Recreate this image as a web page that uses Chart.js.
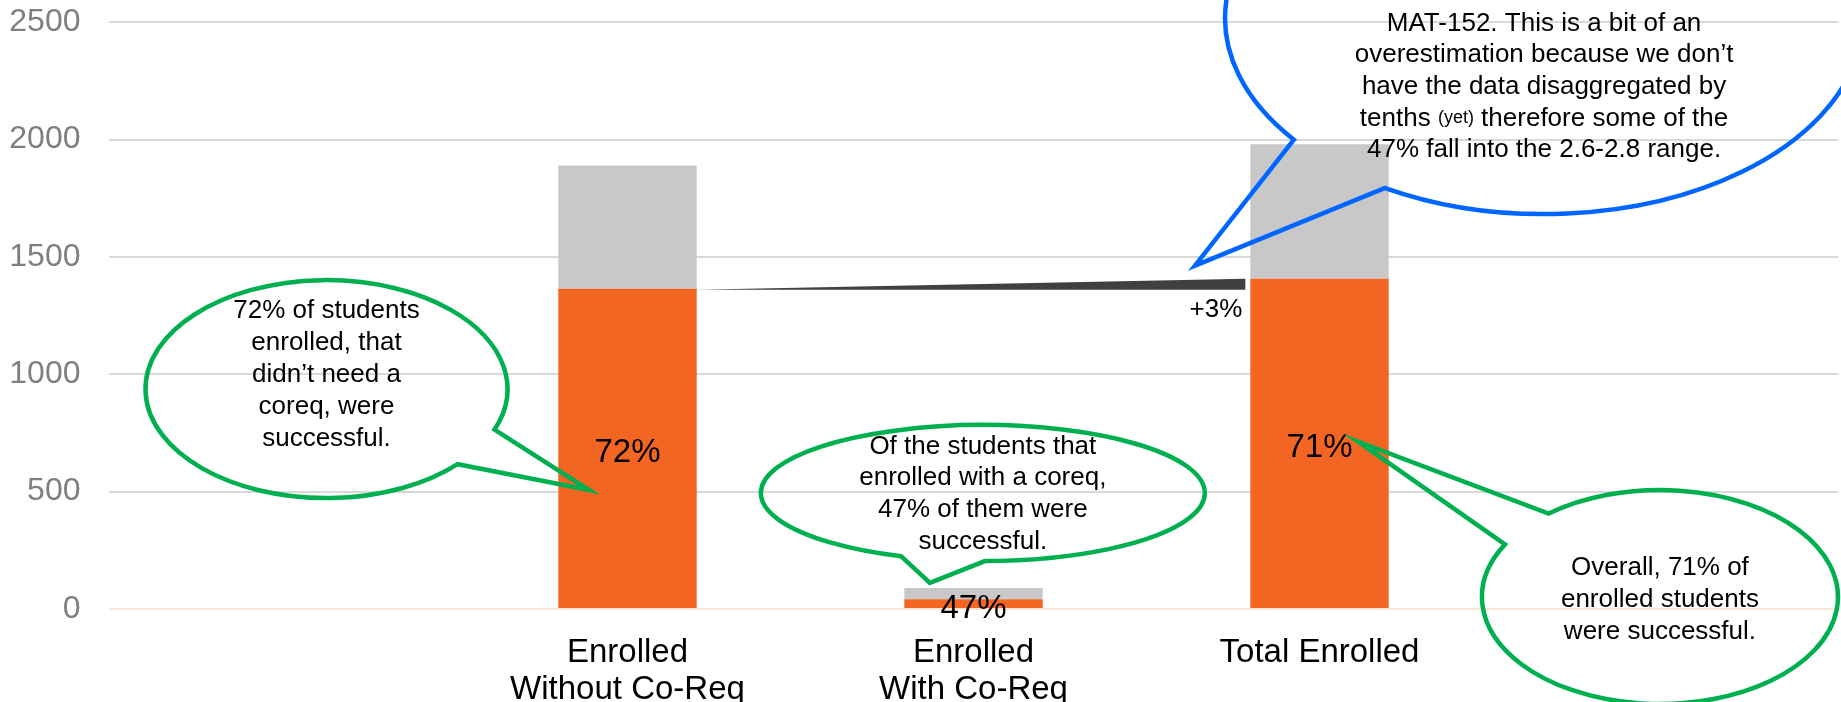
<!DOCTYPE html>
<html>
<head>
<meta charset="utf-8">
<script src="https://cdn.jsdelivr.net/npm/chart.js"></script>
<style>
  body { margin: 0; background: #fff; }
  #wrap { width: 1841px; height: 702px; position: relative; }
</style>
</head>
<body>
<div id="wrap"><canvas id="myChart"></canvas></div>
<script>
// data
const categories = ['', ['Enrolled', 'Without Co-Req'], ['Enrolled', 'With Co-Req'], 'Total Enrolled', '']
const totalEnrolled = [null, 1890, 90, 1980, null]
const successful = [null, 1365, 42, 1407, null]
const notSuccessful = totalEnrolled.map((t, i) => t == null ? null : t - successful[i])
const yTicks = [0, 500, 1000, 1500, 2000, 2500]

const calloutText = [
  ['72% of students', 'enrolled, that', 'didn’t need a', 'coreq, were', 'successful.'],
  ['Of the students that', 'enrolled with a coreq,', '47% of them were', 'successful.'],
  ['MAT-152. This is a bit of an', 'overestimation because we don’t', 'have the data disaggregated by',
    [['tenths ', 26], ['(yet)', 18], [' therefore some of the', 26]], '47% fall into the 2.6-2.8 range.'],
  ['Overall, 71% of', 'enrolled students', 'were successful.']
]

const FONT = "'Liberation Sans', Arial, sans-serif"
const GREEN = '#00b050'
const BLUE = '#0066ff'

// callout shapes: centre / tip in axis units, sizes in px
const callouts = [
  { x: 0.130, y: 937, rx: 181, ry: 109, color: GREEN, tail: [[166, 40], [131, 75]], tip: { x: 0.889, y: 507 }, textDy: -14, lh: 32 },
  { x: 2.027, y: 494, rx: 222, ry: 68, color: GREEN, tail: [[-80, 62], [2, 67]], tip: { x: 1.874, y: 111 }, textDy: 1, lh: 31.7 },
  { x: 3.649, y: 2518, rx: 319, ry: 196, color: BLUE, tail: [[-251, 122], [-158, 169]], tip: { x: 2.640, y: 1463 }, textDy: 68.7, lh: 31.7 },
  { x: 3.984, y: 51, rx: 178, ry: 107, color: GREEN, tail: [[-112, -84], [-156, -53]], tip: { x: 3.113, y: 712 }, textDy: 3, lh: 32 }
]

const pct = (a, b) => Math.round(a / b * 100) + '%'

const barLabels = {
  id: 'barLabels',
  afterDatasetsDraw(chart) {
    const ctx = chart.ctx
    const meta = chart.getDatasetMeta(0)
    ctx.save()
    ctx.fillStyle = '#000'
    ctx.font = '33px ' + FONT
    ctx.textAlign = 'center'
    ctx.textBaseline = 'middle'
    meta.data.forEach((bar, i) => {
      if (successful[i] == null) return
      ctx.fillText(pct(successful[i], totalEnrolled[i]), bar.x, (bar.y + bar.base) / 2 + 5)
    })

    // wedge showing the change between the two "successful" tops
    const b1 = meta.data[1], b3 = meta.data[3]
    const x1 = b1.x + b1.width / 2
    const x2 = b3.x - b3.width / 2 - 5
    ctx.fillStyle = '#404040'
    ctx.beginPath()
    ctx.moveTo(x1, b1.y + 1)
    ctx.lineTo(x2, b3.y)
    ctx.lineTo(x2, b1.y + 1)
    ctx.closePath()
    ctx.fill()
    ctx.fillStyle = '#000'
    ctx.font = '26px ' + FONT
    ctx.textAlign = 'right'
    const diff = Math.round((successful[3] - successful[1]) / successful[1] * 100)
    ctx.fillText((diff >= 0 ? '+' : '') + diff + '%', x2 - 3, b1.y + 21)
    ctx.restore()
  }
}

function drawLine(ctx, line, x, y) {
  if (typeof line === 'string') {
    ctx.font = '26px ' + FONT
    ctx.textAlign = 'center'
    ctx.fillText(line, x, y)
    return
  }
  let w = 0
  line.forEach(s => { ctx.font = s[1] + 'px ' + FONT; w += ctx.measureText(s[0]).width })
  let cx = x - w / 2
  ctx.textAlign = 'left'
  line.forEach(s => {
    ctx.font = s[1] + 'px ' + FONT
    ctx.fillText(s[0], cx, y)
    cx += ctx.measureText(s[0]).width
  })
}

const bubbles = {
  id: 'bubbles',
  afterDraw(chart) {
    const ctx = chart.ctx
    const xs = chart.scales.x, ys = chart.scales.y
    ctx.save()
    callouts.forEach((c, k) => {
      const cx = xs.getPixelForValue(c.x)
      const cy = ys.getPixelForValue(c.y)
      const tx = xs.getPixelForValue(c.tip.x)
      const ty = ys.getPixelForValue(c.tip.y)
      let a1 = Math.atan2(c.tail[0][1] / c.ry, c.tail[0][0] / c.rx)
      let a2 = Math.atan2(c.tail[1][1] / c.ry, c.tail[1][0] / c.rx)
      let d = ((a2 - a1) % (2 * Math.PI) + 2 * Math.PI) % (2 * Math.PI)
      if (d >= Math.PI) { const t = a1; a1 = a2; a2 = t }
      ctx.beginPath()
      ctx.ellipse(cx, cy, c.rx, c.ry, 0, a2, a1, false)
      ctx.lineTo(tx, ty)
      ctx.lineTo(cx + c.rx * Math.cos(a2), cy + c.ry * Math.sin(a2))
      ctx.closePath()
      ctx.lineJoin = 'miter'
      ctx.lineWidth = 4.5
      ctx.strokeStyle = c.color
      ctx.stroke()

      const lines = calloutText[k]
      ctx.fillStyle = '#000'
      ctx.textBaseline = 'middle'
      const y0 = cy + c.textDy - (lines.length - 1) * c.lh / 2
      lines.forEach((ln, j) => drawLine(ctx, ln, cx, y0 + j * c.lh))
    })
    ctx.restore()
  }
}

const ctx = document.getElementById('myChart')

const myChart = new Chart(ctx, {
  type: 'bar',
  data: {
    labels: categories,
    datasets: [
      {
        label: 'Successful',
        data: successful,
        backgroundColor: '#f36523',
        categoryPercentage: 1,
        barPercentage: 0.4
      },
      {
        label: 'Not successful',
        data: notSuccessful,
        backgroundColor: '#c8c8c8',
        categoryPercentage: 1,
        barPercentage: 0.4
      }
    ]
  },
  options: {
    responsive: true,
    maintainAspectRatio: false,
    animation: false,
    layout: { padding: { top: 22.3, right: 2.5, left: 0, bottom: 0 } },
    plugins: {
      legend: { display: false },
      tooltip: { enabled: false }
    },
    scales: {
      x: {
        stacked: true,
        grid: { display: false },
        border: { display: false },
        ticks: {
          color: '#000',
          font: { family: FONT, size: 33, lineHeight: 1.1 },
          padding: 18,
          maxRotation: 0,
          autoSkip: false
        },
        afterFit(scale) { scale.height = 93 }
      },
      y: {
        stacked: true,
        min: yTicks[0],
        max: yTicks[yTicks.length - 1],
        afterBuildTicks(scale) { scale.ticks = yTicks.map(v => ({ value: v })) },
        grid: {
          drawTicks: false,
          lineWidth: 2,
          color: c => c.tick && c.tick.value === 0 ? '#fce4d6' : '#d9d9d9'
        },
        border: { display: false },
        ticks: {
          color: '#7f7f7f',
          font: { family: FONT, size: 32 },
          padding: 28,
          callback: v => String(v)
        },
        afterFit(scale) {
          scale.width = 108.5
          scale.paddingTop = 0
          scale.paddingBottom = 0
        }
      }
    }
  },
  plugins: [barLabels, bubbles]
})
</script>
</body>
</html>
